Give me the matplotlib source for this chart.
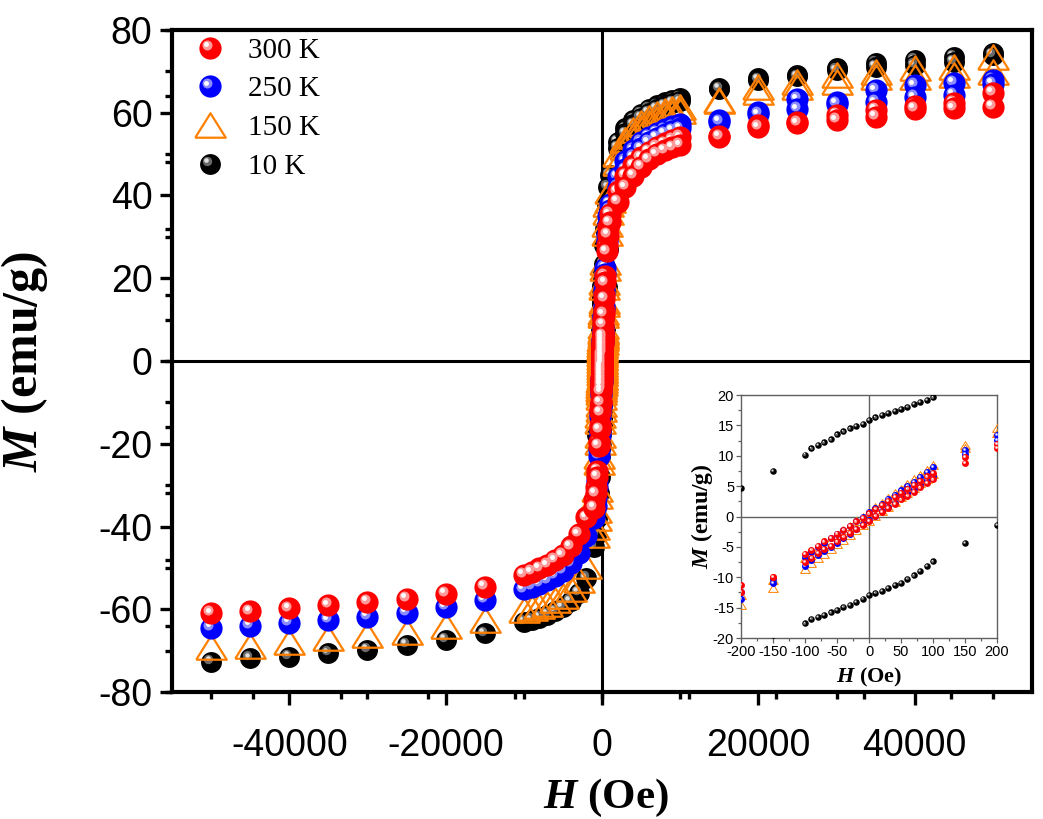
import matplotlib
matplotlib.use("Agg")
import matplotlib.pyplot as plt
from matplotlib.transforms import offset_copy
from matplotlib.lines import Line2D
from matplotlib.legend_handler import HandlerBase
from matplotlib.ticker import MultipleLocator

plt.rcParams['mathtext.fontset'] = 'custom'
plt.rcParams['mathtext.rm'] = 'Liberation Serif:bold'
plt.rcParams['mathtext.it'] = 'Liberation Serif:italic:bold'
plt.rcParams['mathtext.bf'] = 'Liberation Serif:bold'
plt.rcParams['axes.unicode_minus'] = False

# ---------------- data ----------------
labels = ["300 K", "250 K", "150 K", "10 K"]

# high-field positive points (Oe); negative side mirrors these fields
H_hi = [50000, 45000, 40000, 35000, 30000, 25000, 20000, 15000,
        10000, 9000, 8000, 7000, 6000, 5000, 4000, 3000, 2000]
H_neg = [-h for h in H_hi]

# low-field points (Oe)
H_low = [1000, 800, 600, 400, 300, 200, 150, 100, 90, 80, 70, 60, 50, 40, 30, 20, 10, 0,
         -10, -20, -30, -40, -50, -60, -70, -80, -90, -100, -150, -200, -300, -400, -600, -800, -1000]

# 300 K
M300_pos_a = [64.8, 62.4, 61.6, 60.7, 59.5, 57.8, 57.0, 54.4, 54.1, 53.4, 52.6, 51.7, 50.6, 49.2, 47.3, 44.8, 41.0]
M300_pos_b = [61.4, 61.1, 61.0, 59.0, 58.2, 57.5, 56.5, 54.2, 52.2, 51.6, 50.9, 50.0, 48.7, 47.0, 44.8, 42.0, 38.5]
M300_neg = [-60.9, -60.5, -59.8, -59.0, -58.2, -57.4, -56.2, -54.5, -51.7, -51.0, -50.1, -49.3, -48.1, -46.9, -44.8, -41.8, -37.8]
M300_low_dn = [35.5, 32.5, 28.0, 20.5, 16.0, 12.0, 9.8, 7.2, 6.6, 5.9, 5.2, 4.6, 3.9, 3.2, 2.5, 1.9, 1.2, 0.5,
               -0.2, -0.8, -1.5, -2.2, -2.8, -3.5, -4.1, -4.8, -5.5, -6.2, -9.9, -11.3, -15.5, -19.5, -26.5, -30.5, -33.5]
M300_low_up = [33.5, 30.5, 26.5, 19.0, 15.0, 11.3, 8.8, 6.1, 5.5, 4.8, 4.1, 3.4, 2.8, 2.1, 1.4, 0.8, 0.1, -0.7,
               -1.4, -2.0, -2.7, -3.4, -4.1, -4.8, -5.4, -6.0, -6.8, -7.5, -10.0, -12.4, -16.5, -20.5, -28.0, -32.0, -35.5]

# 250 K
M250_pos_a = [67.9, 67.2, 66.7, 65.5, 62.6, 63.3, 60.2, 58.2, 57.2, 56.7, 56.0, 55.2, 54.2, 52.9, 51.0, 48.3, 44.5]
M250_pos_b = [67.0, 64.3, 63.8, 62.6, 62.2, 60.9, 59.7, 57.8, 56.2, 55.6, 54.9, 54.0, 52.9, 51.4, 49.3, 46.3, 42.0]
M250_neg = [-64.5, -64.0, -63.2, -62.6, -61.8, -60.8, -59.5, -57.8, -55.2, -54.6, -53.9, -53.0, -52.0, -50.7, -48.9, -46.3, -42.3]
M250_low_dn = [38.0, 35.0, 30.5, 22.5, 17.5, 13.4, 10.9, 8.2, 7.3, 6.5, 5.7, 5.0, 4.3, 3.6, 2.9, 2.1, 1.4, 0.7,
               0.0, -0.7, -1.5, -2.2, -2.9, -3.6, -4.3, -5.1, -5.8, -6.6, -10.3, -12.5, -17.0, -21.5, -29.0, -33.0, -36.5]
M250_low_up = [36.5, 33.0, 29.0, 21.0, 16.5, 12.6, 10.3, 6.7, 6.0, 5.2, 4.5, 3.8, 3.1, 2.3, 1.6, 0.9, 0.1, -0.6,
               -1.3, -2.1, -2.8, -3.5, -4.3, -5.0, -5.7, -6.4, -7.2, -8.2, -11.0, -13.5, -18.0, -23.0, -30.5, -35.0, -38.0]

# 150 K
M150_pos_a = [73.5, 71.1, 70.8, 69.8, 69.1, 67.4, 66.2, 63.1, 61.5, 61.0, 60.4, 59.7, 58.8, 57.6, 55.9, 53.5, 50.0]
M150_pos_b = [69.9, 69.1, 68.6, 68.6, 67.4, 66.2, 65.0, 62.8, 60.5, 60.0, 59.4, 58.6, 57.6, 56.3, 54.4, 51.8, 47.8]
M150_neg = [-69.1, -68.8, -67.8, -67.0, -66.2, -65.4, -64.0, -62.6, -60.2, -59.8, -59.2, -58.6, -57.8, -56.8, -55.2, -53.0, -49.5]
M150_low_dn = [41.0, 38.0, 33.0, 24.0, 19.0, 14.5, 11.8, 8.4, 7.6, 6.9, 6.1, 5.4, 4.6, 3.8, 3.1, 2.3, 1.6, 0.8,
               0.0, -0.7, -1.5, -2.2, -3.0, -3.8, -4.5, -5.3, -6.0, -6.8, -10.5, -13.0, -18.0, -23.0, -31.0, -36.0, -40.0]
M150_low_up = [39.0, 36.0, 31.0, 22.5, 18.0, 13.8, 11.2, 7.0, 6.2, 5.5, 4.7, 3.9, 3.2, 2.4, 1.6, 0.9, 0.1, -0.7,
               -1.4, -2.2, -3.0, -3.8, -4.5, -5.3, -6.1, -6.8, -7.6, -8.6, -11.7, -14.6, -19.5, -24.5, -32.5, -38.0, -42.0]

# 10 K
M10_pos_a = [74.4, 73.5, 72.7, 72.0, 70.8, 69.1, 68.4, 66.0, 63.6, 63.1, 62.5, 61.8, 60.9, 59.8, 58.3, 56.2, 53.0]
M10_pos_b = [74.0, 72.3, 71.5, 71.1, 70.3, 68.8, 68.0, 65.8, 62.8, 62.4, 61.8, 61.0, 60.0, 58.8, 57.2, 55.0, 51.5]
M10_neg = [-72.7, -71.8, -71.5, -70.6, -69.8, -68.6, -67.4, -65.8, -63.0, -62.6, -62.0, -61.3, -60.5, -59.5, -58.0, -56.0, -52.5]
M10_low_dn = [45.0, 42.0, 38.0, 32.0, 28.0, 23.5, 21.5, 19.6, 19.2, 18.8, 18.5, 18.1, 17.7, 17.4, 17.0, 16.7, 16.3, 15.9,
              15.3, 14.9, 14.5, 14.0, 13.5, 12.7, 12.2, 11.8, 11.2, 10.2, 7.5, 4.7, -1.0, -7.0, -18.0, -27.0, -34.0]
M10_low_up = [35.0, 27.0, 18.0, 7.5, 2.0, -1.4, -4.3, -7.4, -8.2, -9.0, -9.7, -10.3, -10.9, -11.3, -11.8, -12.2, -12.6, -12.9,
              -13.5, -14.1, -14.6, -14.9, -15.4, -15.8, -16.2, -16.5, -16.9, -17.6, -20.5, -23.0, -28.0, -32.0, -38.0, -42.0, -45.0]

# ---------------- styles ----------------
BALL = {
    "300 K": dict(base="#ff0000", hl1="#ff9a9a", hl2="#ffffff"),
    "250 K": dict(base="#0000ff", hl1="#8c8cff", hl2="#ffffff"),
    "10 K": dict(base="#000000", hl1="#6a6a6a", hl2="#e0e0e0"),
}
ORANGE = "#ff8000"
TRI = [(-1, -0.8), (1, -0.8), (0, 0.8), (-1, -0.8)]

fig = plt.figure(figsize=(10.43, 8.19), dpi=100)
ax = fig.add_axes([0.1649, 0.155, 0.8246, 0.8084])


def balls(a, H, M, style, ms, off, z):
    a.plot(H, M, ls="none", marker="o", ms=ms, mfc=style["base"], mec=style["base"], mew=0, zorder=z)
    t1 = offset_copy(a.transData, fig=fig, x=-off, y=off, units="points")
    a.plot(H, M, ls="none", marker="o", ms=ms * 0.45, mfc=style["hl1"], mec="none", zorder=z, transform=t1)
    t2 = offset_copy(a.transData, fig=fig, x=-off * 1.25, y=off * 1.25, units="points")
    a.plot(H, M, ls="none", marker="o", ms=ms * 0.22, mfc=style["hl2"], mec="none", zorder=z, transform=t2)


def tris(a, H, M, ms, lw, z):
    a.plot(H, M, ls="none", marker=TRI, ms=ms, mfc="none", mec=ORANGE, mew=lw, zorder=z)


def draw_all(a, big=True):
    if big:
        ms_b, off, ms_t, lw_t = 16, 2.0, 22, 1.6
    else:
        ms_b, off, ms_t, lw_t = 5.0, 0.6, 7, 0.7
    # 10 K
    if big:
        for M in (M10_pos_a, M10_pos_b):
            balls(a, H_hi, M, BALL["10 K"], ms_b * 0.94, off, 3)
        balls(a, H_neg, M10_neg, BALL["10 K"], ms_b * 0.94, off, 3)
    for M in (M10_low_dn, M10_low_up):
        balls(a, H_low, M, BALL["10 K"], ms_b * 0.94, off, 3)
    # 150 K
    if big:
        for M in (M150_pos_a, M150_pos_b):
            tris(a, H_hi, M, ms_t, lw_t, 4)
        tris(a, H_neg, M150_neg, ms_t, lw_t, 4)
    for M in (M150_low_dn, M150_low_up):
        tris(a, H_low, M, ms_t, lw_t, 4)
    # 250 K
    if big:
        for M in (M250_pos_a, M250_pos_b):
            balls(a, H_hi, M, BALL["250 K"], ms_b, off, 5)
        balls(a, H_neg, M250_neg, BALL["250 K"], ms_b, off, 5)
    for M in (M250_low_dn, M250_low_up):
        balls(a, H_low, M, BALL["250 K"], ms_b, off, 5)
    # 300 K
    if big:
        for M in (M300_pos_a, M300_pos_b):
            balls(a, H_hi, M, BALL["300 K"], ms_b, off, 6)
        balls(a, H_neg, M300_neg, BALL["300 K"], ms_b, off, 6)
    for M in (M300_low_dn, M300_low_up):
        balls(a, H_low, M, BALL["300 K"], ms_b, off, 6)


draw_all(ax, big=True)

ax.set_xlim(-55000, 55000)
ax.set_ylim(-80, 80)
ax.axhline(0, color="black", lw=2.2, zorder=1)
ax.axvline(0, color="black", lw=2.2, zorder=1)

for s in ax.spines.values():
    s.set_linewidth(3.0)
ax.xaxis.set_major_locator(MultipleLocator(20000))
ax.xaxis.set_minor_locator(MultipleLocator(10000))
ax.yaxis.set_major_locator(MultipleLocator(20))
ax.yaxis.set_minor_locator(MultipleLocator(10))
ax.tick_params(which="major", direction="out", length=9, width=2.4, top=False, right=False)
ax.tick_params(which="minor", direction="out", length=5, width=2.4, top=False, right=False)
ax.tick_params(axis="y", which="major", pad=5)
ax.tick_params(axis="x", which="major", pad=17)
for lab in ax.get_xticklabels() + ax.get_yticklabels():
    lab.set_fontfamily("Liberation Sans")
    lab.set_fontsize(27)

# second overlapping tick layer (as in the original Origin graph)
secx = ax.secondary_xaxis("bottom", functions=(lambda x: x * 0.897, lambda x: x / 0.897))
secx.xaxis.set_major_locator(MultipleLocator(10000))
secx.tick_params(direction="out", length=5, width=2.4, labelbottom=False)
secx.spines["bottom"].set_visible(False)
secy = ax.secondary_yaxis("left", functions=(lambda y: y * 0.625, lambda y: y / 0.625))
secy.yaxis.set_major_locator(MultipleLocator(10))
secy.tick_params(direction="out", length=5, width=2.4, labelleft=False)
secy.spines["left"].set_visible(False)

ax.set_xlabel(r"$\it{H}$ (Oe)", fontsize=31, fontfamily="Liberation Serif", fontweight="bold")
ax.set_ylabel(r"$\it{M}$ (emu/g)", fontsize=36, fontfamily="Liberation Serif", fontweight="bold")
ax.xaxis.set_label_coords(0.505, -0.128)
ax.yaxis.set_label_coords(-0.142, 0.5)


# legend
class BallHandler(HandlerBase):
    def __init__(self, style, ms):
        super().__init__()
        self.style, self.ms = style, ms

    def create_artists(self, legend, orig_handle, xdescent, ydescent, width, height, fontsize, trans):
        x = width / 2 - xdescent
        y = height / 2 - ydescent
        st, ms = self.style, self.ms
        a1 = Line2D([x], [y], ls="none", marker="o", ms=ms, mfc=st["base"], mec=st["base"], mew=0, transform=trans)
        a2 = Line2D([x - 2.0], [y + 2.0], ls="none", marker="o", ms=ms * 0.45, mfc=st["hl1"], mec="none", transform=trans)
        a3 = Line2D([x - 2.5], [y + 2.5], ls="none", marker="o", ms=ms * 0.22, mfc=st["hl2"], mec="none", transform=trans)
        return [a1, a2, a3]


h300 = Line2D([], [], label=labels[0])
h250 = Line2D([], [], label=labels[1])
h150 = Line2D([], [], ls="none", marker=TRI, ms=22, mfc="none", mec=ORANGE, mew=1.6, label=labels[2])
h10 = Line2D([], [], label=labels[3])
leg = ax.legend(handles=[h300, h250, h150, h10], loc="upper left", bbox_to_anchor=(0.015, 0.9955),
                frameon=False, prop={"family": "Liberation Serif", "size": 21},
                handler_map={h300: BallHandler(BALL["300 K"], 16), h250: BallHandler(BALL["250 K"], 16),
                             h10: BallHandler(BALL["10 K"], 15)},
                handlelength=1.4, handletextpad=0.6, labelspacing=0.42, borderaxespad=0.0, borderpad=0.15)

# inset
axi = fig.add_axes([0.7105, 0.221, 0.2454, 0.2967])
axi.set_zorder(10)
axi.set_facecolor("white")
draw_all(axi, big=False)
axi.set_xlim(-200, 200)
axi.set_ylim(-20, 20)
axi.axhline(0, color="#606060", lw=1.0, zorder=1)
axi.axvline(0, color="#606060", lw=1.0, zorder=1)
for s in axi.spines.values():
    s.set_linewidth(1.0)
    s.set_color("#606060")
axi.xaxis.set_major_locator(MultipleLocator(50))
axi.xaxis.set_minor_locator(MultipleLocator(25))
axi.yaxis.set_major_locator(MultipleLocator(5))
axi.yaxis.set_minor_locator(MultipleLocator(2.5))
axi.tick_params(which="major", direction="out", length=3.5, width=0.9, color="#606060", top=False, right=False, pad=1.5)
axi.tick_params(which="minor", direction="out", length=2, width=0.9, color="#606060", top=False, right=False)
for lab in axi.get_xticklabels() + axi.get_yticklabels():
    lab.set_fontfamily("Liberation Sans")
    lab.set_fontsize(10.5)
axi.set_xlabel(r"$\it{H}$ (Oe)", fontsize=16, fontfamily="Liberation Serif", fontweight="bold")
axi.set_ylabel(r"$\it{M}$ (emu/g)", fontsize=17, fontfamily="Liberation Serif", fontweight="bold")
axi.xaxis.set_label_coords(0.5, -0.115)
axi.yaxis.set_label_coords(-0.1, 0.5)

fig.savefig("out.png", dpi=100)
